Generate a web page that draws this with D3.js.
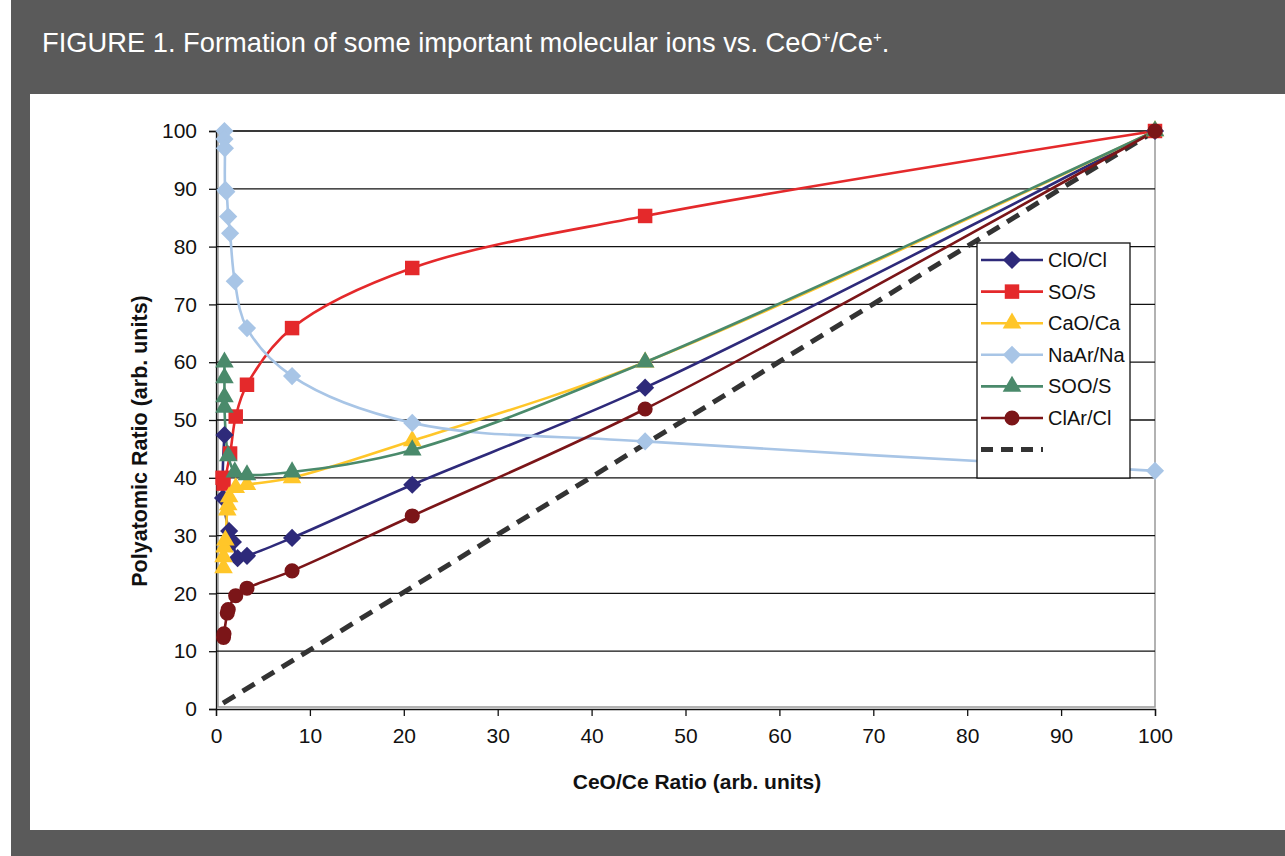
<!DOCTYPE html>
<html>
<head>
<meta charset="utf-8">
<script src="https://cdn.jsdelivr.net/npm/d3@7"></script>
<style>
  body { margin: 0; background: #fff; }
  svg { display: block; font-family: "Liberation Sans", Arial, sans-serif; }
</style>
</head>
<body>
<div id="chart"></div>
<script>
// Chart values
const xTicks = [0, 10, 20, 30, 40, 50, 60, 70, 80, 90, 100];
const yTicks = [0, 10, 20, 30, 40, 50, 60, 70, 80, 90, 100];

const cloX = [0.9, 0.75, 1.4, 1.8, 2.3, 3.3, 8.1, 20.9, 45.7, 100];
const cloY = [47.4, 36.5, 30.8, 28.9, 26.1, 26.5, 29.6, 38.8, 55.6, 100];

const soX = [0.7, 0.8, 1.5, 2.1, 3.3, 8.1, 20.9, 45.7, 100];
const soY = [40, 39, 44.2, 50.6, 56.1, 65.9, 76.3, 85.3, 100];

const caoX = [0.8, 0.8, 0.9, 1.0, 1.2, 1.3, 1.4, 2.1, 3.3, 8.1, 20.9, 45.7, 100];
const caoY = [24.4, 26.3, 28, 29.2, 34.4, 35.3, 36.7, 38.3, 38.8, 40, 46.4, 60, 100];

const naarX = [0.9, 0.9, 0.95, 1.0, 1.1, 1.3, 1.5, 2.0, 3.3, 8.1, 20.9, 45.7, 100];
const naarY = [100, 98.6, 97, 89.8, 89.5, 85.2, 82.3, 74, 65.9, 57.6, 49.5, 46.3, 41.2];

const sooX = [0.9, 0.9, 0.9, 0.9, 1.3, 2.0, 3.3, 8.1, 20.9, 45.7, 100];
const sooY = [60, 57.3, 54, 52.2, 43.8, 41, 40.5, 41, 44.8, 60, 100];

const clarX = [0.8, 0.85, 1.2, 1.3, 2.1, 3.3, 8.1, 20.9, 45.7, 100];
const clarY = [12.4, 13, 16.6, 17.2, 19.6, 20.9, 23.9, 33.4, 51.9, 100];

const refX = [0.75, 100];
const refY = [1, 100];

const seriesNames = ["ClO/Cl", "SO/S", "CaO/Ca", "NaAr/Na", "SOO/S", "ClAr/Cl"];

const series = [
  { name: seriesNames[0], xs: cloX, ys: cloY, color: "#2e2a7a", marker: "diamond" },
  { name: seriesNames[1], xs: soX, ys: soY, color: "#e4292b", marker: "square" },
  { name: seriesNames[2], xs: caoX, ys: caoY, color: "#ffc629", marker: "triangle" },
  { name: seriesNames[3], xs: naarX, ys: naarY, color: "#a8c5e6", marker: "diamond" },
  { name: seriesNames[4], xs: sooX, ys: sooY, color: "#4a8a6b", marker: "triangle" },
  { name: seriesNames[5], xs: clarX, ys: clarY, color: "#7b1518", marker: "circle" }
];

const width = 1285, height = 856;
const plot = { left: 216, right: 1155, top: 131, bottom: 709 };

const svg = d3.select("#chart").append("svg")
  .attr("width", width)
  .attr("height", height);

// frame
svg.append("rect").attr("x", 11).attr("y", 0).attr("width", width - 11).attr("height", height).attr("fill", "#5a5a5a");
svg.append("rect").attr("x", 30).attr("y", 94).attr("width", width - 30).attr("height", 736).attr("fill", "#fff");

const title = svg.append("text")
  .attr("x", 42).attr("y", 52)
  .attr("fill", "#fff")
  .attr("font-size", 27.3);
title.append("tspan").text("FIGURE 1. Formation of some important molecular ions vs. CeO");
title.append("tspan").attr("font-size", 15).attr("dy", -10).text("+");
title.append("tspan").attr("dy", 10).text("/Ce");
title.append("tspan").attr("font-size", 15).attr("dy", -10).text("+");
title.append("tspan").attr("dy", 10).text(".");

const xScale = d3.scaleLinear().domain([0, 100]).range([plot.left, plot.right]);
const yScale = d3.scaleLinear().domain([0, 100]).range([plot.bottom, plot.top]);

// plot area border
svg.append("rect")
  .attr("x", plot.left + 2).attr("y", plot.top)
  .attr("width", plot.right - plot.left - 2).attr("height", plot.bottom - plot.top - 2)
  .attr("fill", "none").attr("stroke", "#999").attr("stroke-width", 1.5);

// gridlines
svg.append("g").selectAll("line")
  .data(yTicks.filter(d => d > 0))
  .join("line")
  .attr("x1", plot.left).attr("x2", plot.right)
  .attr("y1", d => yScale(d)).attr("y2", d => yScale(d))
  .attr("stroke", "#111").attr("stroke-width", 1.3);

const xAxis = d3.axisBottom(xScale).tickValues(xTicks).tickSize(7).tickPadding(12);
const yAxis = d3.axisLeft(yScale).tickValues(yTicks).tickSize(7).tickPadding(12);

const xAxisGroup = svg.append("g")
  .attr("transform", `translate(0, ${plot.bottom})`)
  .call(xAxis);
const yAxisGroup = svg.append("g")
  .attr("transform", `translate(${plot.left}, 0)`)
  .call(yAxis);

[xAxisGroup, yAxisGroup].forEach(g => {
  g.select(".domain").attr("stroke", "#111").attr("stroke-width", 1.3);
  g.selectAll(".tick line").attr("stroke", "#111").attr("stroke-width", 1.3);
  g.selectAll(".tick text").attr("font-size", 21).attr("fill", "#111")
    .attr("font-family", "Liberation Sans, Arial, sans-serif");
});

svg.append("text")
  .attr("x", 697).attr("y", 789)
  .attr("text-anchor", "middle")
  .attr("font-size", 21).attr("font-weight", "bold").attr("fill", "#111")
  .text("CeO/Ce Ratio (arb. units)");

svg.append("text")
  .attr("transform", `translate(147, 441) rotate(-90)`)
  .attr("text-anchor", "middle")
  .attr("font-size", 21.5).attr("font-weight", "bold").attr("fill", "#111")
  .text("Polyatomic Ratio (arb. units)");

// reference dashed line
const lineFn = d3.line()
  .x(d => xScale(d[0]))
  .y(d => yScale(d[1]));

svg.append("path")
  .datum(d3.zip(refX, refY))
  .attr("d", lineFn)
  .attr("fill", "none")
  .attr("stroke", "#333")
  .attr("stroke-width", 5)
  .attr("stroke-dasharray", "14,9");

const smooth = d3.line()
  .x(d => xScale(d[0]))
  .y(d => yScale(d[1]))
  .curve(d3.curveCatmullRom.alpha(0.5));

const symbolFor = {
  diamond: d3.symbol().type(d3.symbolSquare).size(165),
  square: d3.symbol().type(d3.symbolSquare).size(210),
  triangle: d3.symbol().type(d3.symbolTriangle).size(150),
  circle: d3.symbol().type(d3.symbolCircle).size(180)
};
const rotateFor = m => (m === "diamond" ? " rotate(45)" : "");

series.forEach(s => {
  const pts = d3.zip(s.xs, s.ys);
  svg.append("path")
    .datum(pts)
    .attr("d", smooth)
    .attr("fill", "none")
    .attr("stroke", s.color)
    .attr("stroke-width", 2.6);
});

series.forEach(s => {
  const pts = d3.zip(s.xs, s.ys);
  svg.append("g").selectAll("path")
    .data(pts)
    .join("path")
    .attr("transform", d => `translate(${xScale(d[0])},${yScale(d[1])})${rotateFor(s.marker)}`)
    .attr("d", symbolFor[s.marker]())
    .attr("fill", s.color);
});

// legend
const legend = svg.append("g").attr("transform", "translate(977, 243)");
legend.append("rect")
  .attr("width", 153).attr("height", 235)
  .attr("fill", "#fff").attr("stroke", "#111").attr("stroke-width", 1.3);

const rowY = i => 17 + i * 31.6;
const rows = legend.selectAll(".row")
  .data(series)
  .join("g")
  .attr("class", "row")
  .attr("transform", (d, i) => `translate(0, ${rowY(i)})`);

rows.append("line")
  .attr("x1", 4).attr("x2", 66)
  .attr("stroke", d => d.color).attr("stroke-width", 2.6);
rows.append("path")
  .attr("transform", d => `translate(35, 0)${rotateFor(d.marker)}`)
  .attr("d", d => symbolFor[d.marker]())
  .attr("fill", d => d.color);
rows.append("text")
  .attr("x", 71).attr("y", 7)
  .attr("font-size", 20).attr("fill", "#111")
  .text(d => d.name);

legend.append("line")
  .attr("x1", 4).attr("x2", 66)
  .attr("y1", rowY(6)).attr("y2", rowY(6))
  .attr("stroke", "#333").attr("stroke-width", 5)
  .attr("stroke-dasharray", "12,8");
</script>
</body>
</html>
